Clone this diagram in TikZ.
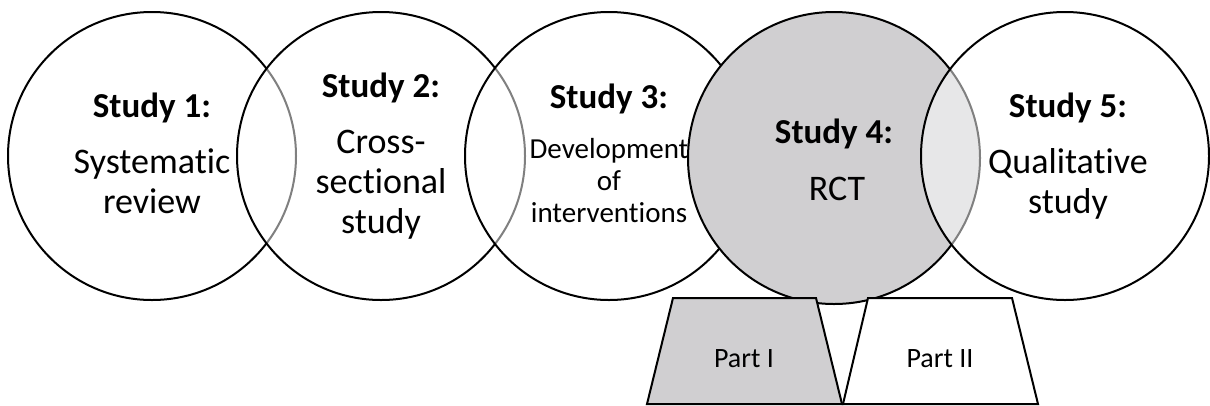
\documentclass[tikz,border=0pt]{standalone}
\usepackage{fontspec}
\setmainfont[Ligatures=NoCommon]{Carlito}
\definecolor{rctgray}{RGB}{208,207,209}
\tikzstyle{studycircle}=[circle,draw,line width=2pt,minimum size=288pt,inner sep=0pt,fill=white,fill opacity=0.5]
\tikzstyle{stitle}=[font=\fontsize{35}{42}\selectfont\bfseries,anchor=base,inner sep=0pt]
\tikzstyle{sbody}=[font=\fontsize{36}{40}\selectfont,anchor=base,align=center,inner sep=0pt]
\tikzstyle{ssmall}=[font=\fontsize{29}{32}\selectfont,anchor=base,align=center,inner sep=0pt]
\tikzstyle{partbox}=[draw,line width=2pt,line join=miter]
\tikzstyle{parttext}=[font=\fontsize{28}{32}\selectfont,anchor=base,inner sep=0pt]

\begin{document}
\begin{tikzpicture}[x=1pt,y=-1pt]
    \useasboundingbox (0,0) rectangle (1210,405);
    % the five studies
    \node[studycircle] (S1) at (152,156) {};
    \node[studycircle] (S2) at (381,156) {};
    \node[studycircle] (S3) at (609,156) {};
    \node[studycircle,fill=rctgray,fill opacity=1,minimum size=292pt] (S4) at (834,158) {};
    \node[studycircle] (S5) at (1065,156) {};
    % the two parts of the RCT
    \coordinate (P1a) at (647,404);
    \coordinate (P1b) at (673,298);
    \coordinate (P1c) at (816,298);
    \coordinate (P1d) at (842,404);
    \coordinate (P2a) at (843,404);
    \coordinate (P2b) at (868,298);
    \coordinate (P2c) at (1012,298);
    \coordinate (P2d) at (1038,404);
    \draw[partbox,fill=rctgray] (P1a) -- (P1b) -- (P1c) -- (P1d) -- cycle;
    \draw[partbox,fill=white] (P2a) -- (P2b) -- (P2c) -- (P2d) -- cycle;
    % texts (base = last line)
    \node[stitle] (T1) at (152,117) {Study 1:};
    \node[sbody] (B1) at (152,213) {Systematic\\review};
    \node[stitle] (T2) at (381,97) {Study 2:};
    \node[sbody] (B2) at (381,233) {Cross-\\sectional\\study};
    \node[stitle] (T3) at (609,108) {Study 3:};
    \node[ssmall] (B3) at (609,222) {Development\\of\\interventions};
    \node[stitle] (T4) at (834,143) {Study 4:};
    \node[sbody] (B4) at (837,200) {RCT};
    \node[stitle] (T5) at (1068,117) {Study 5:};
    \node[sbody] (B5) at (1068,213) {Qualitative\\study};
    \node[parttext] (L1) at (744,367) {Part I};
    \node[parttext] (L2) at (940,367) {Part II};
\end{tikzpicture}
\end{document}
